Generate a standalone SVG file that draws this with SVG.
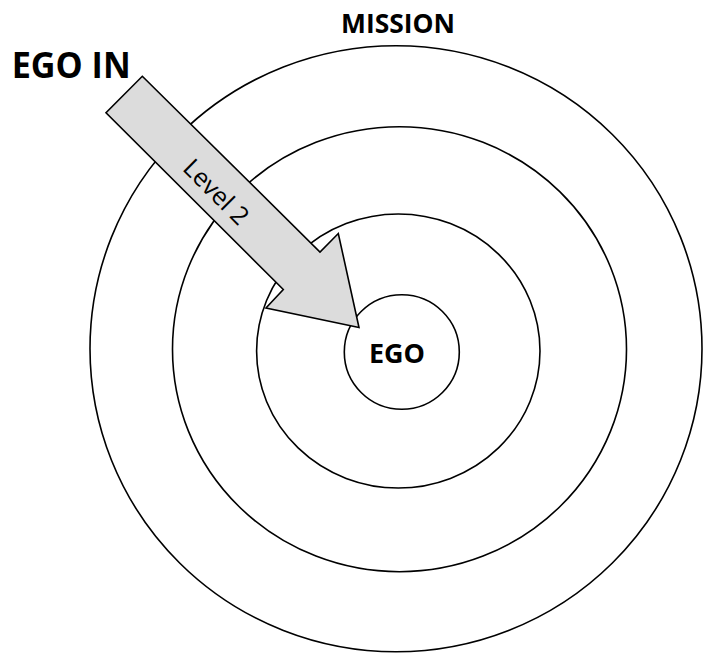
<svg xmlns="http://www.w3.org/2000/svg" width="704" height="653" viewBox="0 0 704 653">
  <style>
    .ring { fill: none; stroke: #000; stroke-width: 1.6; }
    .lbl { font-family: "Open Sans", "Liberation Sans", sans-serif; font-weight: bold; fill: #000; }
    .arrow { fill: #DCDCDC; stroke: #000; stroke-width: 1.6; stroke-linejoin: miter; }
    .alabel { font-family: "Open Sans", "Liberation Sans", sans-serif; font-size: 25px; fill: #000; }
  </style>
  <rect width="704" height="653" fill="#fff"/>
  <g id="mission">
    <ellipse class="ring" cx="396" cy="348.7" rx="306" ry="303"/>
    <text class="lbl" x="398" y="33.3" font-size="26" text-anchor="middle" textLength="114" lengthAdjust="spacingAndGlyphs">MISSION</text>
  </g>
  <g id="ring-2">
    <ellipse class="ring" cx="399.5" cy="349.2" rx="227" ry="222.5"/>
  </g>
  <g id="ring-3">
    <ellipse class="ring" cx="398.3" cy="351" rx="141.7" ry="137"/>
  </g>
  <g id="ego">
    <ellipse class="ring" cx="401.8" cy="352" rx="57.5" ry="57.3"/>
    <text class="lbl" x="397" y="362.7" font-size="27" text-anchor="middle" textLength="56" lengthAdjust="spacingAndGlyphs">EGO</text>
  </g>
  <g id="ego-in">
    <text class="lbl" x="11.7" y="77.7" font-size="36" textLength="119" lengthAdjust="spacingAndGlyphs">EGO IN</text>
  </g>
  <g id="connectors">
    <g id="level2-arrow">
      <polygon class="arrow" points="142.3,76.3 320,252 338.3,233.5 359,327.5 266,308 283.3,289.5 106,112.7"/>
      <text class="alabel" transform="translate(216,192) rotate(45)" x="0" y="8.5" text-anchor="middle">Level 2</text>
    </g>
  </g>
</svg>
